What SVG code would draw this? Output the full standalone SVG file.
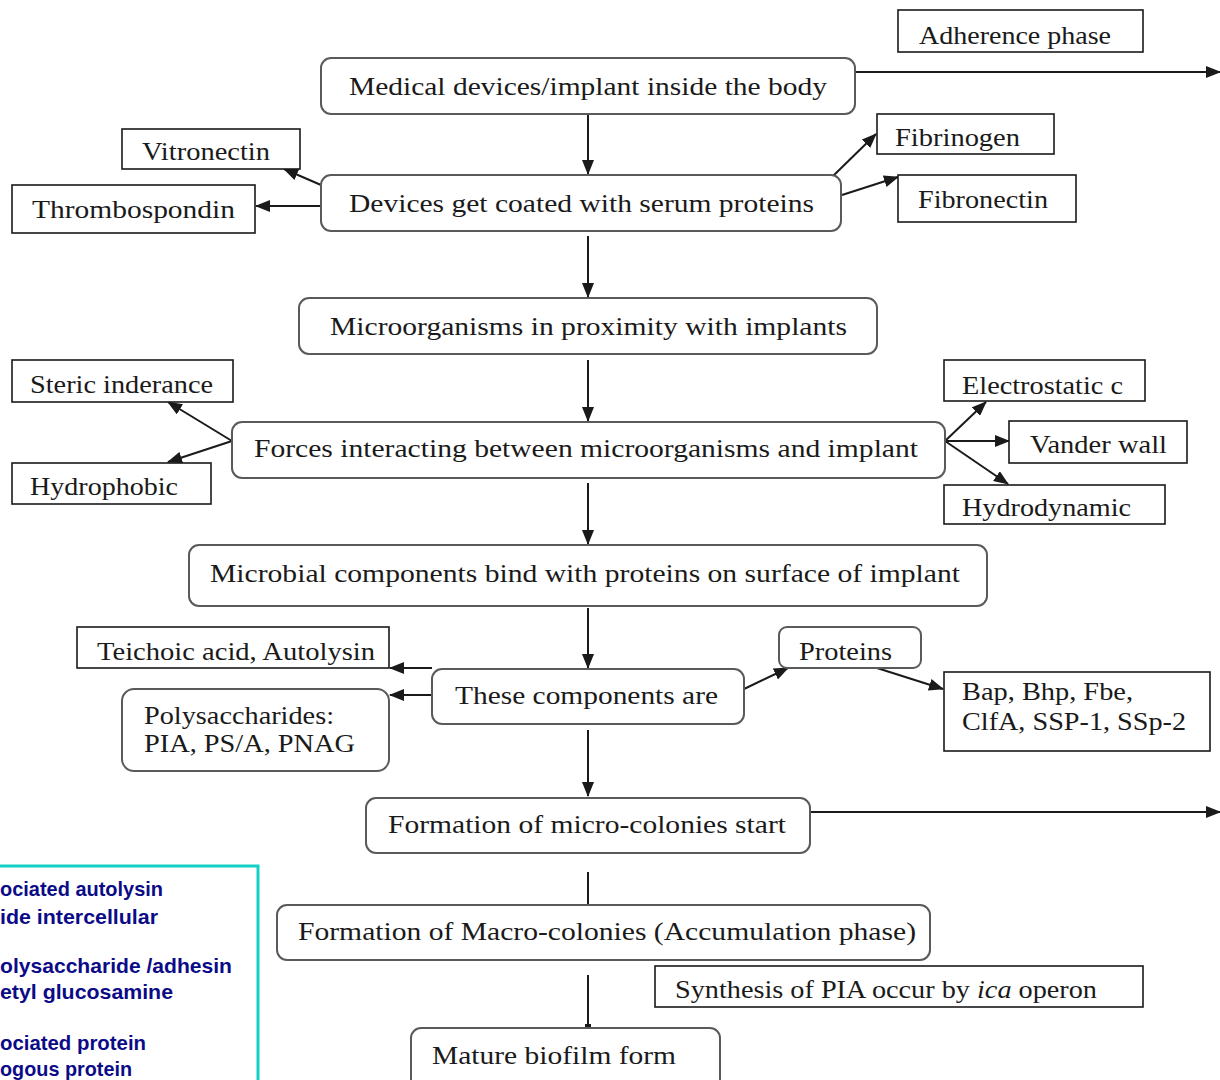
<svg xmlns="http://www.w3.org/2000/svg" width="1220" height="1080" viewBox="0 0 1220 1080">
<defs>
<marker id="ah" markerWidth="15" markerHeight="12" refX="14" refY="6" orient="auto" markerUnits="userSpaceOnUse">
<path d="M0,0 L15,6 L0,12 Z" fill="#1a1a1a"/>
</marker>
</defs>
<style>
.t{font-family:"Liberation Serif","Times New Roman",serif;font-size:25px;fill:#1a1a1a}
.r{fill:#fff;stroke:#5a5a5a;stroke-width:2}
.s{fill:#fff;stroke:#1a1a1a;stroke-width:1.6}
.c{stroke:#1a1a1a;stroke-width:2;fill:none}
.n{font-family:"Liberation Sans",Arial,sans-serif;font-size:21px;font-weight:bold;fill:#0b0b88}
</style>
<rect width="1220" height="1080" fill="#fff"/>

<g id="connectors">
<line class="c" x1="855" y1="72" x2="1220" y2="72" marker-end="url(#ah)"/>
<line class="c" x1="588" y1="114" x2="588" y2="174" marker-end="url(#ah)"/>
<line class="c" x1="321" y1="185" x2="284" y2="169" marker-end="url(#ah)"/>
<line class="c" x1="321" y1="206" x2="256" y2="206" marker-end="url(#ah)"/>
<line class="c" x1="833" y1="176" x2="876" y2="134" marker-end="url(#ah)"/>
<line class="c" x1="842" y1="195" x2="898" y2="177" marker-end="url(#ah)"/>
<line class="c" x1="588" y1="236" x2="588" y2="297" marker-end="url(#ah)"/>
<line class="c" x1="588" y1="360" x2="588" y2="421" marker-end="url(#ah)"/>
<line class="c" x1="232" y1="441" x2="168" y2="402" marker-end="url(#ah)"/>
<line class="c" x1="232" y1="441" x2="168" y2="462" marker-end="url(#ah)"/>
<line class="c" x1="945" y1="441" x2="986" y2="402" marker-end="url(#ah)"/>
<line class="c" x1="945" y1="441" x2="1009" y2="441" marker-end="url(#ah)"/>
<line class="c" x1="945" y1="441" x2="1008" y2="484" marker-end="url(#ah)"/>
<line class="c" x1="588" y1="483" x2="588" y2="544" marker-end="url(#ah)"/>
<line class="c" x1="588" y1="608" x2="588" y2="668" marker-end="url(#ah)"/>
<line class="c" x1="432" y1="668" x2="390" y2="668" marker-end="url(#ah)"/>
<line class="c" x1="432" y1="695" x2="390" y2="695" marker-end="url(#ah)"/>
<line class="c" x1="744" y1="689" x2="788" y2="668" marker-end="url(#ah)"/>
<line class="c" x1="877" y1="668" x2="943" y2="689" marker-end="url(#ah)"/>
<line class="c" x1="588" y1="730" x2="588" y2="796" marker-end="url(#ah)"/>
<line class="c" x1="810" y1="812" x2="1220" y2="812" marker-end="url(#ah)"/>
<line class="c" x1="588" y1="872" x2="588" y2="905"/>
<line class="c" x1="588" y1="975" x2="588" y2="1028"/>
<rect x="585" y="1024" width="6" height="4" fill="#1a1a1a"/>
</g>

<g id="n-adherence"><rect class="s" x="898" y="10" width="245" height="42"/><text class="t" x="919" y="44" textLength="192" lengthAdjust="spacingAndGlyphs">Adherence phase</text></g>
<g id="n-medical"><rect class="r" x="321" y="58" width="534" height="56" rx="10"/><text class="t" x="349" y="95" textLength="478" lengthAdjust="spacingAndGlyphs">Medical devices/implant inside the body</text></g>
<g id="n-vitronectin"><rect class="s" x="122" y="129" width="178" height="40"/><text class="t" x="142" y="160" textLength="128" lengthAdjust="spacingAndGlyphs">Vitronectin</text></g>
<g id="n-thrombospondin"><rect class="s" x="12" y="185" width="243" height="48"/><text class="t" x="32" y="218" textLength="203" lengthAdjust="spacingAndGlyphs">Thrombospondin</text></g>
<g id="n-coated"><rect class="r" x="321" y="175" width="520" height="56" rx="10"/><text class="t" x="349" y="212" textLength="465" lengthAdjust="spacingAndGlyphs">Devices get coated with serum proteins</text></g>
<g id="n-fibrinogen"><rect class="s" x="877" y="114" width="177" height="40"/><text class="t" x="895" y="146" textLength="125" lengthAdjust="spacingAndGlyphs">Fibrinogen</text></g>
<g id="n-fibronectin"><rect class="s" x="898" y="175" width="178" height="47"/><text class="t" x="918" y="208" textLength="130" lengthAdjust="spacingAndGlyphs">Fibronectin</text></g>
<g id="n-proximity"><rect class="r" x="299" y="298" width="578" height="56" rx="10"/><text class="t" x="330" y="335" textLength="517" lengthAdjust="spacingAndGlyphs">Microorganisms in proximity with implants</text></g>
<g id="n-steric"><rect class="s" x="12" y="360" width="221" height="42"/><text class="t" x="30" y="393" textLength="183" lengthAdjust="spacingAndGlyphs">Steric inderance</text></g>
<g id="n-hydrophobic"><rect class="s" x="12" y="463" width="199" height="41"/><text class="t" x="30" y="495" textLength="148" lengthAdjust="spacingAndGlyphs">Hydrophobic</text></g>
<g id="n-forces"><rect class="r" x="232" y="422" width="713" height="56" rx="10"/><text class="t" x="254" y="457" textLength="664" lengthAdjust="spacingAndGlyphs">Forces interacting between microorganisms and implant</text></g>
<g id="n-electrostatic"><rect class="s" x="944" y="360" width="201" height="41"/><text class="t" x="962" y="394" textLength="161" lengthAdjust="spacingAndGlyphs">Electrostatic c</text></g>
<g id="n-vander"><rect class="s" x="1009" y="421" width="178" height="42"/><text class="t" x="1030" y="453" textLength="137" lengthAdjust="spacingAndGlyphs">Vander wall</text></g>
<g id="n-hydrodynamic"><rect class="s" x="944" y="485" width="221" height="39"/><text class="t" x="962" y="516" textLength="169" lengthAdjust="spacingAndGlyphs">Hydrodynamic</text></g>
<g id="n-microbial"><rect class="r" x="189" y="545" width="798" height="61" rx="10"/><text class="t" x="210" y="582" textLength="750" lengthAdjust="spacingAndGlyphs">Microbial components bind with proteins on surface of implant</text></g>
<g id="n-teichoic"><rect class="s" x="77" y="627" width="312" height="41"/><text class="t" x="97" y="660" textLength="278" lengthAdjust="spacingAndGlyphs">Teichoic acid, Autolysin</text></g>
<g id="n-polysaccharides"><rect class="r" x="122" y="689" width="267" height="82" rx="12"/><text class="t" x="144" y="724" textLength="190" lengthAdjust="spacingAndGlyphs">Polysaccharides:</text><text class="t" x="144" y="752" textLength="211" lengthAdjust="spacingAndGlyphs">PIA, PS/A, PNAG</text></g>
<g id="n-components"><rect class="r" x="432" y="669" width="312" height="55" rx="10"/><text class="t" x="455" y="704" textLength="263" lengthAdjust="spacingAndGlyphs">These components are</text></g>
<g id="n-proteins"><rect class="r" x="779" y="627" width="142" height="41" rx="8"/><text class="t" x="799" y="660" textLength="93" lengthAdjust="spacingAndGlyphs">Proteins</text></g>
<g id="n-bap"><rect class="s" x="944" y="672" width="266" height="79"/><text class="t" x="962" y="700" textLength="171" lengthAdjust="spacingAndGlyphs">Bap, Bhp, Fbe,</text><text class="t" x="962" y="730" textLength="224" lengthAdjust="spacingAndGlyphs">ClfA, SSP-1, SSp-2</text></g>
<g id="n-micro"><rect class="r" x="366" y="798" width="444" height="55" rx="10"/><text class="t" x="388" y="833" textLength="398" lengthAdjust="spacingAndGlyphs">Formation of micro-colonies start</text></g>
<g id="n-macro"><rect class="r" x="277" y="905" width="653" height="55" rx="10"/><text class="t" x="298" y="940" textLength="618" lengthAdjust="spacingAndGlyphs">Formation of Macro-colonies (Accumulation phase)</text></g>
<g id="n-synthesis"><rect class="s" x="655" y="966" width="488" height="41"/><text class="t" x="675" y="998" textLength="422" lengthAdjust="spacingAndGlyphs">Synthesis of PIA occur by <tspan font-style="italic">ica</tspan> operon</text></g>
<g id="n-mature"><rect class="r" x="411" y="1028" width="309" height="62" rx="10"/><text class="t" x="432" y="1064" textLength="244" lengthAdjust="spacingAndGlyphs">Mature biofilm form</text></g>

<g id="n-legend">
<rect x="-10" y="866" width="268" height="230" fill="#fff" stroke="#12d0c4" stroke-width="3"/>
<text class="n" x="0" y="896" textLength="163" lengthAdjust="spacingAndGlyphs">ociated autolysin</text>
<text class="n" x="0" y="924" textLength="158" lengthAdjust="spacingAndGlyphs">ide intercellular</text>
<text class="n" x="0" y="973" textLength="232" lengthAdjust="spacingAndGlyphs">olysaccharide /adhesin</text>
<text class="n" x="0" y="999" textLength="173" lengthAdjust="spacingAndGlyphs">etyl glucosamine</text>
<text class="n" x="0" y="1050" textLength="146" lengthAdjust="spacingAndGlyphs">ociated protein</text>
<text class="n" x="0" y="1076" textLength="132" lengthAdjust="spacingAndGlyphs">ogous protein</text>
</g>
</svg>
